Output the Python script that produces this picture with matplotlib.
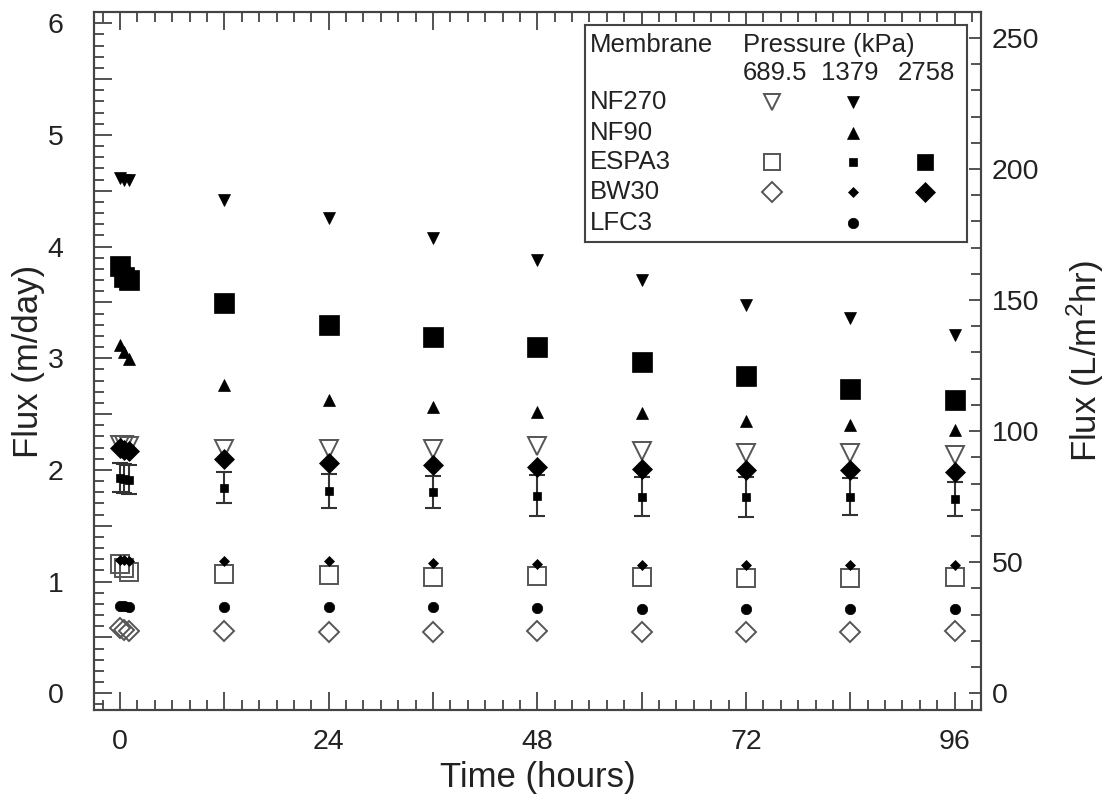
import numpy as np
import matplotlib
matplotlib.use("Agg")
import matplotlib.pyplot as plt
from matplotlib.ticker import MultipleLocator, FuncFormatter

plt.rcParams['font.family'] = ['Liberation Sans', 'DejaVu Sans']
plt.rcParams['mathtext.default'] = 'regular'

# Tiempos de muestreo (horas)
time = [0, 0.5, 1, 12, 24, 36, 48, 60, 72, 84, 96]

# Flux (m/day)
nf270_689 = [2.22, 2.22, 2.21, 2.19, 2.19, 2.19, 2.21, 2.17, 2.15, 2.15, 2.13]
nf270_1379 = [4.61, 4.60, 4.60, 4.42, 4.26, 4.08, 3.88, 3.70, 3.48, 3.36, 3.21]
nf90_1379 = [3.12, 3.06, 2.99, 2.76, 2.63, 2.56, 2.52, 2.51, 2.44, 2.40, 2.36]
espa3_689 = [1.16, 1.12, 1.09, 1.07, 1.06, 1.04, 1.05, 1.04, 1.03, 1.03, 1.04]
espa3_1379 = [1.93, 1.92, 1.91, 1.84, 1.81, 1.80, 1.77, 1.76, 1.76, 1.76, 1.74]
espa3_1379_err = [0.13, 0.13, 0.13, 0.14, 0.15, 0.145, 0.18, 0.175, 0.18, 0.165, 0.155]
espa3_2758 = [3.83, 3.73, 3.70, 3.49, 3.30, 3.19, 3.10, 2.97, 2.84, 2.72, 2.63]
bw30_689 = [0.58, 0.57, 0.56, 0.56, 0.55, 0.55, 0.56, 0.55, 0.55, 0.55, 0.56]
bw30_1379 = [1.19, 1.19, 1.18, 1.18, 1.18, 1.17, 1.16, 1.15, 1.15, 1.15, 1.15]
bw30_2758 = [2.20, 2.18, 2.17, 2.10, 2.06, 2.04, 2.03, 2.01, 2.00, 2.00, 1.98]
lfc3_1379 = [0.78, 0.78, 0.77, 0.77, 0.77, 0.77, 0.76, 0.75, 0.75, 0.75, 0.75]

membranes = ["NF270", "NF90", "ESPA3", "BW30", "LFC3"]
pressures = ["689.5", "1379", "2758"]

# factor de conversion eje derecho (L/m2hr por m/day)
conv = 42.6

GRAY = '#555555'
DARK = '#222222'
SPINE = '#444444'

# estilos de marcador
st = {
    'nf270_689': dict(marker='v', ms=13, mfc='none', mec=GRAY, mew=1.4),
    'nf270_1379': dict(marker='v', ms=8.5, mfc='black', mec='black', mew=0.5),
    'nf90_1379': dict(marker='^', ms=8.5, mfc='black', mec='black', mew=0.5),
    'espa3_689': dict(marker='s', ms=13, mfc='none', mec=GRAY, mew=1.4),
    'espa3_1379': dict(marker='s', ms=6, mfc='black', mec='black', mew=0.5),
    'espa3_2758': dict(marker='s', ms=14, mfc='black', mec='black', mew=0.5),
    'bw30_689': dict(marker='D', ms=10, mfc='none', mec=GRAY, mew=1.4),
    'bw30_1379': dict(marker='D', ms=5.5, mfc='black', mec='black', mew=0.5),
    'bw30_2758': dict(marker='D', ms=10, mfc='black', mec='black', mew=0.5),
    'lfc3_1379': dict(marker='o', ms=7.5, mfc='black', mec='black', mew=0.5),
}

fig = plt.figure(figsize=(11.11, 8.01), dpi=100)
ax = fig.add_axes([0.0846, 0.1136, 0.7981, 0.8714])

ax.errorbar(time, espa3_1379, yerr=espa3_1379_err, fmt='none', ecolor='#333333',
            elinewidth=1.5, capsize=5.5, capthick=1.5, zorder=2)
ax.plot(time, espa3_1379, ls='none', zorder=3, **st['espa3_1379'])
ax.plot(time, espa3_689, ls='none', zorder=3, **st['espa3_689'])
ax.plot(time, espa3_2758, ls='none', zorder=3, **st['espa3_2758'])
ax.plot(time, nf270_689, ls='none', zorder=3, **st['nf270_689'])
ax.plot(time, nf270_1379, ls='none', zorder=3, **st['nf270_1379'])
ax.plot(time, nf90_1379, ls='none', zorder=3, **st['nf90_1379'])
ax.plot(time, bw30_689, ls='none', zorder=3, **st['bw30_689'])
ax.plot(time, bw30_1379, ls='none', zorder=4, **st['bw30_1379'])
ax.plot(time, bw30_2758, ls='none', zorder=4, **st['bw30_2758'])
ax.plot(time, lfc3_1379, ls='none', zorder=3, **st['lfc3_1379'])

ax.set_xlim(-3, 99)
ax.set_ylim(-0.15, 6.1)

int_fmt = lambda step: FuncFormatter(
    lambda v, p: f"{v:.0f}" if abs(v / step - round(v / step)) < 1e-6 else "")

ax.xaxis.set_major_locator(MultipleLocator(12))
ax.xaxis.set_minor_locator(MultipleLocator(2))
ax.xaxis.set_major_formatter(int_fmt(24))
ax.yaxis.set_major_locator(MultipleLocator(0.5))
ax.yaxis.set_minor_locator(MultipleLocator(0.1))
ax.yaxis.set_major_formatter(int_fmt(1))

ax.tick_params(which='both', direction='in', top=True, right=False, color=SPINE,
               width=1.3, labelsize=20.5, labelcolor=DARK)
ax.tick_params(which='major', length=13)
ax.tick_params(which='minor', length=7)
ax.tick_params(axis='x', pad=14)
ax.tick_params(axis='y', pad=22)

for s in ax.spines.values():
    s.set_color(SPINE)
    s.set_linewidth(1.5)

ax.set_xlabel("Time (hours)", fontsize=25, color=DARK, labelpad=4)
ax.set_ylabel("Flux (m/day)", fontsize=25, color=DARK, labelpad=2)

ax2 = ax.twinx()
lo, hi = ax.get_ylim()
ax2.set_ylim(lo * conv, hi * conv)
ax2.yaxis.set_major_locator(MultipleLocator(50))
ax2.yaxis.set_minor_locator(MultipleLocator(10))
ax2.tick_params(which='both', direction='in', color=SPINE, width=1.3,
                labelsize=20.5, labelcolor=DARK, pad=8)
ax2.tick_params(which='major', length=9)
ax2.tick_params(which='minor', length=7)
for s in ax2.spines.values():
    s.set_color(SPINE)
    s.set_linewidth(1.5)
ax2.set_ylabel("Flux (L/m$^{2}$hr)", fontsize=25, color=DARK, labelpad=18)

# leyenda en forma de tabla
lg = fig.add_axes([0.5266, 0.6982, 0.3436, 0.2705])
lg.set_xlim(0, 1)
lg.set_ylim(0, 1)
lg.set_xticks([])
lg.set_yticks([])
lg.set_facecolor('white')
for s in lg.spines.values():
    s.set_color(SPINE)
    s.set_linewidth(1.5)

fs = 18.5
lg.text(0.013, 0.908, "Membrane", fontsize=fs, color=DARK, va='center', ha='left')
lg.text(0.414, 0.908, "Pressure (kPa)", fontsize=fs, color=DARK, va='center', ha='left')
col_x = [0.497, 0.694, 0.893]
for cx, p in zip(col_x, pressures):
    lg.text(cx, 0.777, p, fontsize=fs, color=DARK, va='center', ha='center')

row_y = [0.646, 0.503, 0.369, 0.231, 0.086]
for ry, m in zip(row_y, membranes):
    lg.text(0.013, ry, m, fontsize=fs, color=DARK, va='center', ha='left')

mk_x = [0.489, 0.701, 0.891]
legend_rows = [
    ['nf270_689', 'nf270_1379', None],
    [None, 'nf90_1379', None],
    ['espa3_689', 'espa3_1379', 'espa3_2758'],
    ['bw30_689', 'bw30_1379', 'bw30_2758'],
    [None, 'lfc3_1379', None],
]
for ry, row in zip(row_y, legend_rows):
    for mx, key in zip(mk_x, row):
        if key is None:
            continue
        kw = dict(st[key])
        if kw['ms'] > 10:
            kw['ms'] = kw['ms'] * 0.85
        lg.plot([mx], [ry], ls='none', **kw)

fig.savefig("out.png", dpi=100)
